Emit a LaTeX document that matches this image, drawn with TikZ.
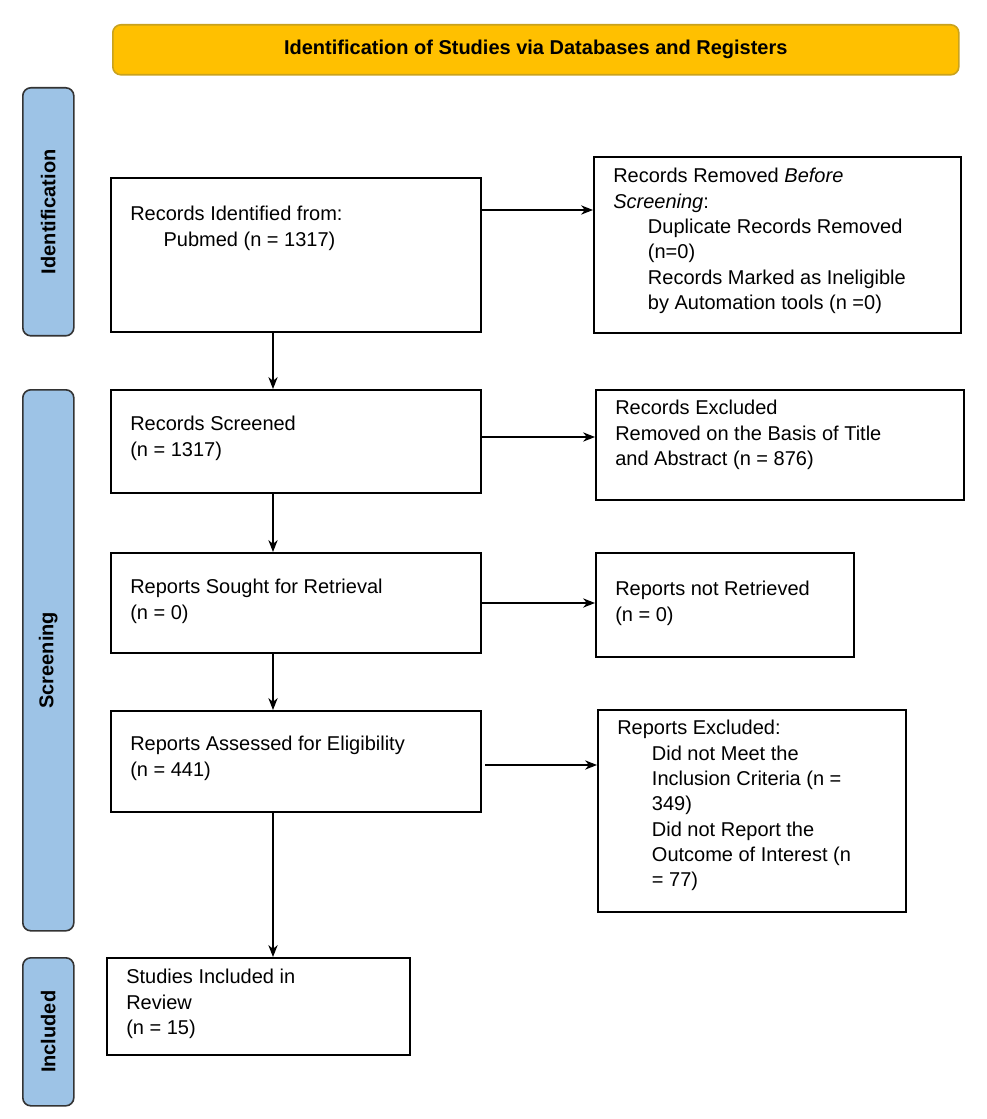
\documentclass[tikz,border=0pt]{standalone}
\usepackage{fontspec}
\setmainfont{Liberation Sans}
\usetikzlibrary{arrows.meta}
\definecolor{gold}{HTML}{FFC000}
\definecolor{goldb}{HTML}{C9A21E}
\definecolor{side}{HTML}{9DC3E6}
\begin{document}
\begin{tikzpicture}[x=0.75pt,y=-0.75pt,
 box/.style={draw,line width=1.2pt,anchor=north west,inner sep=0},
 txt/.style={anchor=north west,align=left,inner sep=0,font=\fontsize{15}{19}\selectfont},
 sidebox/.style={draw=black!80,fill=side,rounded corners=6pt,line width=1.2pt,anchor=north west,inner sep=0},
 sidetxt/.style={rotate=90,font=\bfseries\fontsize{15}{18}\selectfont},
 arr/.style={-{Stealth[length=9pt,width=7pt]},line width=0.8pt}]
\useasboundingbox (0,0) rectangle (986,1119);
\node[draw=goldb,fill=gold,rounded corners=6pt,line width=1.2pt,minimum width=846*0.75pt,minimum height=50*0.75pt,anchor=north west,font=\bfseries\fontsize{15}{18}\selectfont] (title) at (112,24) {Identification of Studies via Databases and Registers};
\node[sidebox,minimum width=51*0.75pt,minimum height=248*0.75pt] (s1) at (22,87) {};
\node[sidetxt] at (s1) {Identification};
\node[sidebox,minimum width=51*0.75pt,minimum height=541*0.75pt] (s2) at (22,389) {};
\node[sidetxt] at (s2) {Screening};
\node[sidebox,minimum width=51*0.75pt,minimum height=148*0.75pt] (s3) at (22,957) {};
\node[sidetxt] at (s3) {Included};

\node[box,minimum width=370*0.75pt,minimum height=154*0.75pt] (id) at (110,177) {};
\node[txt] at (130,206) {Records Identified from:\\\hspace*{25pt}Pubmed (n = 1317)};
\node[box,minimum width=367*0.75pt,minimum height=176*0.75pt] (rm) at (593,156) {};
\node[txt] at (613,168) {Records Removed \emph{Before}\\\emph{Screening}:\\\hspace*{26pt}Duplicate Records Removed\\\hspace*{26pt}(n=0)\\\hspace*{26pt}Records Marked as Ineligible\\\hspace*{26pt}by Automation tools (n =0)};
\node[box,minimum width=370*0.75pt,minimum height=103*0.75pt] (sc) at (110,389) {};
\node[txt] at (130,416) {Records Screened\\(n = 1317)};
\node[box,minimum width=368*0.75pt,minimum height=110*0.75pt] (ex) at (595,389) {};
\node[txt] at (615,400) {Records Excluded\\Removed on the Basis of Title\\and Abstract (n = 876)};
\node[box,minimum width=370*0.75pt,minimum height=100*0.75pt] (so) at (110,552) {};
\node[txt] at (130,579) {Reports Sought for Retrieval\\(n = 0)};
\node[box,minimum width=258*0.75pt,minimum height=104*0.75pt] (nr) at (595,552) {};
\node[txt] at (615,581) {Reports not Retrieved\\(n = 0)};
\node[box,minimum width=370*0.75pt,minimum height=101*0.75pt] (as) at (110,710) {};
\node[txt] at (130,736) {Reports Assessed for Eligibility\\(n = 441)};
\node[box,minimum width=308*0.75pt,minimum height=202*0.75pt] (re) at (597,709) {};
\node[txt] at (617,720) {Reports Excluded:\\\hspace*{26pt}Did not Meet the\\\hspace*{26pt}Inclusion Criteria (n =\\\hspace*{26pt}349)\\\hspace*{26pt}Did not Report the\\\hspace*{26pt}Outcome of Interest (n\\\hspace*{26pt}= 77)};
\node[box,minimum width=303*0.75pt,minimum height=97*0.75pt] (in) at (106,957) {};
\node[txt] at (126,969) {Studies Included in\\Review\\(n = 15)};

\coordinate (a1) at (273,331); \coordinate (a2) at (273,389);
\draw[arr] (id.south -| a1) -- (sc.north -| a1);
\draw[arr] (sc.south -| a1) -- (so.north -| a1);
\draw[arr] (so.south -| a1) -- (as.north -| a1);
\draw[arr] (as.south -| a1) -- (in.north -| a1);
\coordinate (h1) at (480,210); \coordinate (h2) at (480,437);
\coordinate (h3) at (480,603); \coordinate (h4) at (485,765);
\draw[arr] (h1) -- (h1 -| rm.west);
\draw[arr] (h2) -- (h2 -| ex.west);
\draw[arr] (h3) -- (h3 -| nr.west);
\draw[arr] (h4) -- (h4 -| re.west);
\end{tikzpicture}
\end{document}
